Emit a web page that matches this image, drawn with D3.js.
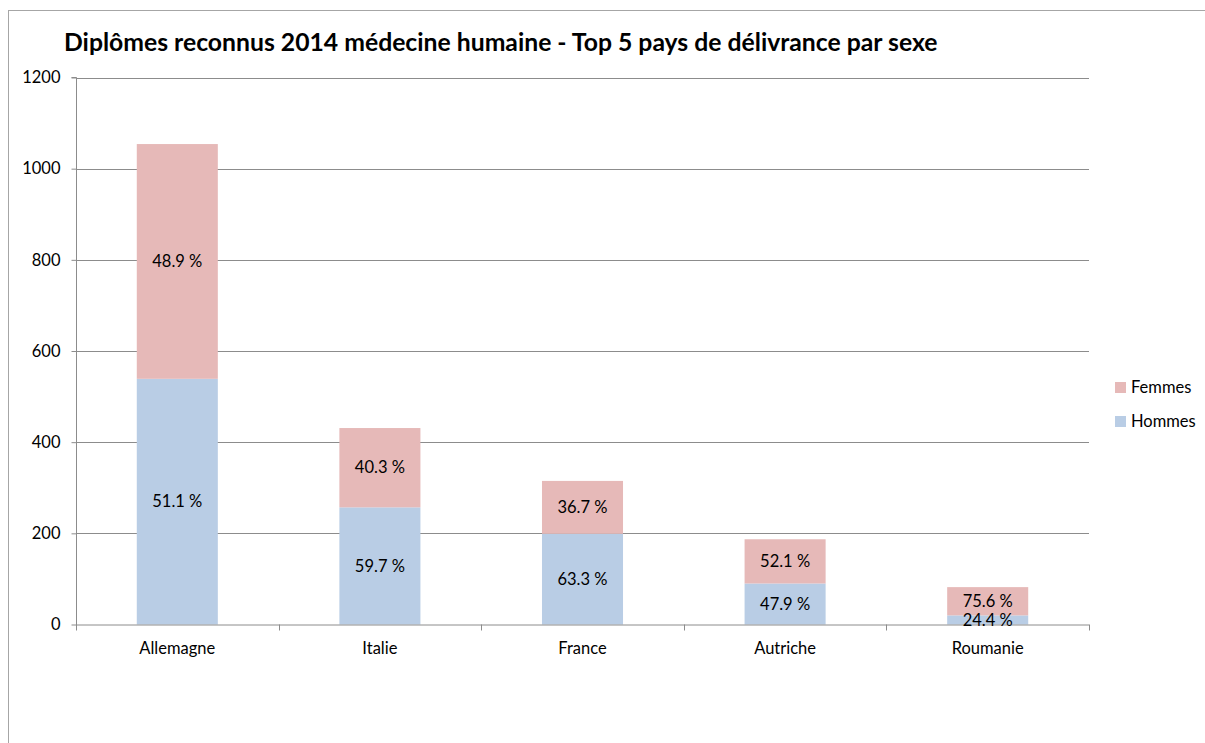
<!DOCTYPE html>
<html>
<head>
<meta charset="utf-8">
<script src="https://cdn.jsdelivr.net/npm/d3@7"></script>
<style>
  html, body { margin: 0; padding: 0; background: #fff; }
  svg { display: block; font-family: "Lato", "Open Sans", "Liberation Sans", sans-serif; }
</style>
</head>
<body>
<svg id="chart" width="1205" height="743"></svg>
<script>
const categories = ["Allemagne", "Italie", "France", "Autriche", "Roumanie"];
const hommes = [539, 257, 199, 90, 20];
const femmes = [515, 174, 116, 97, 62];
const hommesPct = ["51.1 %", "59.7 %", "63.3 %", "47.9 %", "24.4 %"];
const femmesPct = ["48.9 %", "40.3 %", "36.7 %", "52.1 %", "75.6 %"];
const yTicks = [0, 200, 400, 600, 800, 1000, 1200];
const seriesNames = ["Hommes", "Femmes"];
const seriesColors = ["#B9CDE5", "#E6B9B8"];
const title = "Diplômes reconnus 2014 médecine humaine - Top 5 pays de délivrance par sexe";

const FS = 16.5;
const svg = d3.select("#chart");

// outer chart border
svg.append("rect")
  .attr("x", 8.5).attr("y", 10.5)
  .attr("width", 1210).attr("height", 760)
  .attr("fill", "none").attr("stroke", "#A6A6A6").attr("stroke-width", 1);

const plot = { left: 76, right: 1089, top: 77.5, bottom: 624.5 };

const x = d3.scaleBand().domain(categories)
  .range([plot.left, plot.right]).paddingInner(0.6).paddingOuter(0.3);
const y = d3.scaleLinear().domain([0, 1200]).range([plot.bottom, plot.top]);

// gridlines
svg.append("g").selectAll("line").data(yTicks.filter(d => d > 0)).join("line")
  .attr("x1", plot.left).attr("x2", plot.right)
  .attr("y1", d => Math.round(y(d)) + 0.5).attr("y2", d => Math.round(y(d)) + 0.5)
  .attr("stroke", "#8C8C8C").attr("stroke-width", 1);

// stacked data
const rows = categories.map((c, i) => ({ cat: c, Hommes: hommes[i], Femmes: femmes[i], i }));
const stack = d3.stack().keys(seriesNames)(rows);

const gBars = svg.append("g");
stack.forEach((layer, li) => {
  gBars.selectAll(null).data(layer).join("rect")
    .attr("x", d => x(d.data.cat))
    .attr("width", x.bandwidth())
    .attr("y", d => y(d[1]))
    .attr("height", d => y(d[0]) - y(d[1]))
    .attr("fill", seriesColors[li]);
});

// y axis
const yAxis = d3.axisLeft(y).tickValues(yTicks).tickSize(5).tickPadding(11).tickFormat(d3.format("d"));
const gy = svg.append("g").attr("transform", `translate(${plot.left + 0.5},0)`).call(yAxis);
gy.select(".domain").attr("stroke", "#8C8C8C").attr("d", `M-5,${plot.top}H0V${plot.bottom + 0.5}`);
gy.selectAll(".tick line").attr("stroke", "#8C8C8C");
gy.selectAll(".tick text").attr("font-size", FS).attr("fill", "#000")
  .attr("font-family", "Lato, 'Open Sans', sans-serif");

// x axis line + ticks at band boundaries
const gx = svg.append("g");
gx.append("line")
  .attr("x1", plot.left).attr("x2", plot.right)
  .attr("y1", plot.bottom + 0.5).attr("y2", plot.bottom + 0.5)
  .attr("stroke", "#8C8C8C");
const boundaries = d3.range(categories.length + 1).map(k => plot.left + k * (plot.right - plot.left) / categories.length);
gx.selectAll("line.tk").data(boundaries).join("line").attr("class", "tk")
  .attr("x1", d => Math.round(d) + 0.5).attr("x2", d => Math.round(d) + 0.5)
  .attr("y1", plot.bottom).attr("y2", plot.bottom + 6)
  .attr("stroke", "#8C8C8C");
gx.selectAll("text").data(categories).join("text")
  .attr("x", d => x(d) + x.bandwidth() / 2)
  .attr("y", plot.bottom + 29)
  .attr("text-anchor", "middle")
  .attr("font-size", FS)
  .text(d => d);

// percentage labels
const gLab = svg.append("g").attr("font-size", FS).attr("text-anchor", "middle");
stack.forEach((layer, li) => {
  const labs = li === 0 ? hommesPct : femmesPct;
  gLab.selectAll(null).data(layer).join("text")
    .attr("x", d => x(d.data.cat) + x.bandwidth() / 2)
    .attr("y", d => (y(d[0]) + y(d[1])) / 2)
    .attr("dy", "0.35em")
    .text((d, i) => labs[i]);
});

// title
const t = svg.append("text")
  .attr("x", 64).attr("y", 51)
  .attr("font-size", 19).attr("font-weight", "bold")
  .text(title);
const tw = t.node().getComputedTextLength();
t.attr("font-size", 19 * 874 / tw);

// legend (Femmes on top)
const legendOrder = [1, 0];
const gL = svg.append("g");
legendOrder.forEach((si, k) => {
  const yy = 382 + k * 34;
  gL.append("rect").attr("x", 1115).attr("y", yy).attr("width", 11).attr("height", 11)
    .attr("fill", seriesColors[si]);
  gL.append("text").attr("x", 1131).attr("y", yy + 5.5).attr("dy", "0.35em")
    .attr("font-size", FS).text(seriesNames[si]);
});
</script>
</body>
</html>
